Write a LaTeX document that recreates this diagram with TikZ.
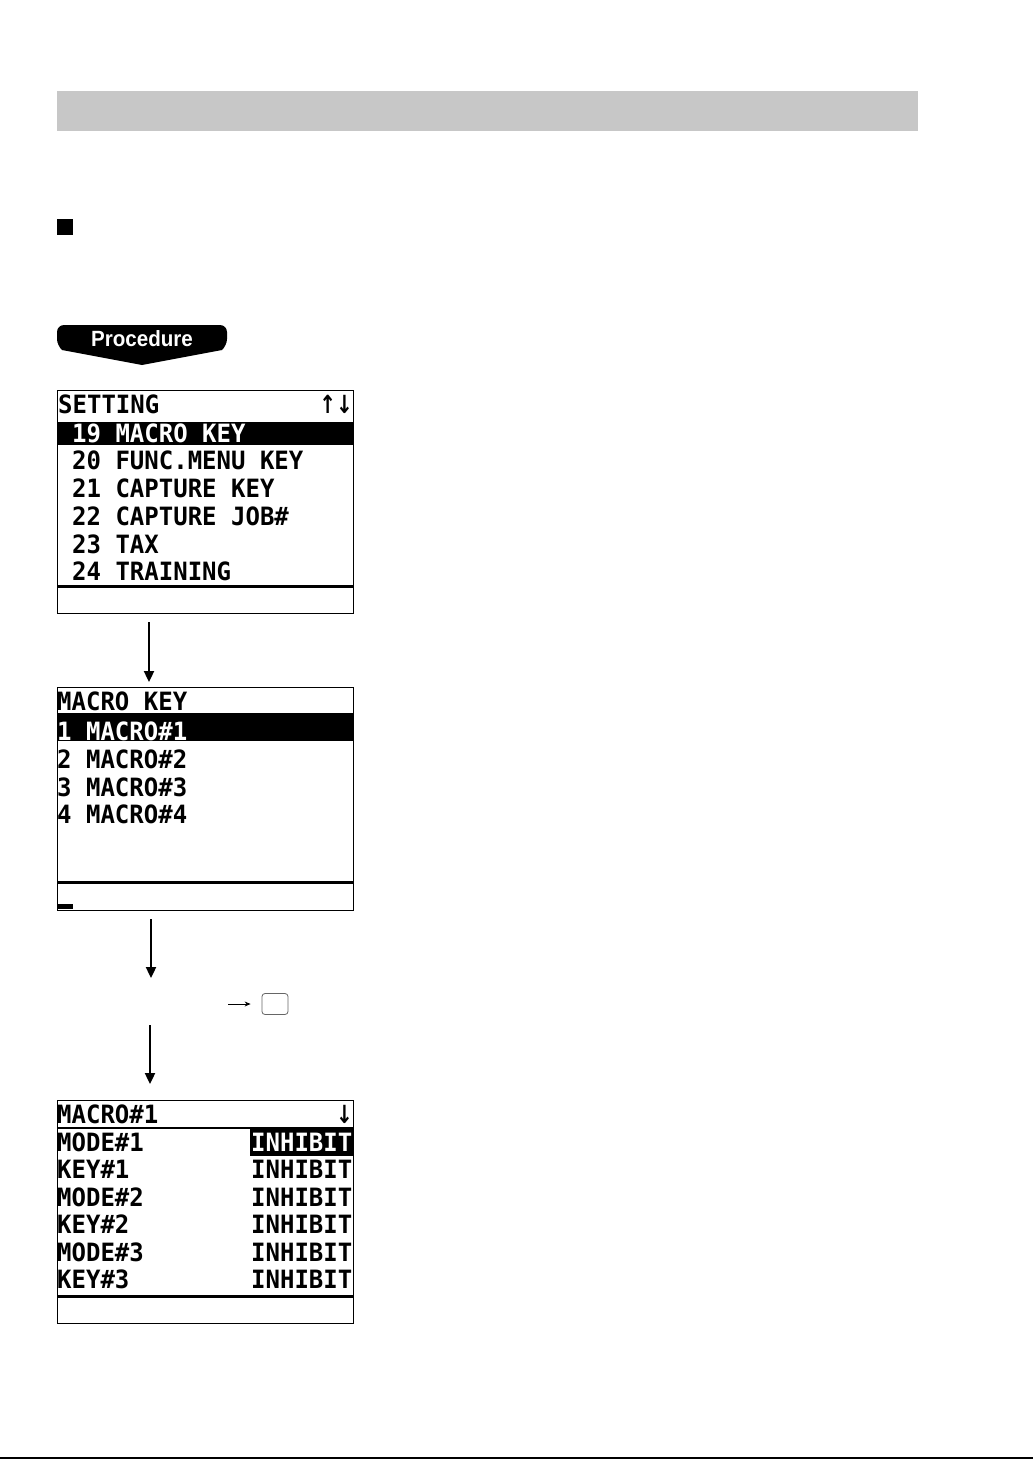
\documentclass[tikz,border=0pt]{standalone}
\usepackage{fontspec}
\usetikzlibrary{arrows.meta}
\newfontfamily\lcdfont{DejaVu Sans Mono}[BoldFont={* Bold}]
\newfontfamily\arrowfont{DejaVu Sans}[BoldFont={* Bold}]
\newfontfamily\badgefont{Liberation Sans}
\begin{document}
\begin{tikzpicture}[x=1pt,y=-1pt,
  lcd/.style={font=\lcdfont\bfseries\fontsize{24}{24}\selectfont, inner sep=0pt, anchor=base west, yscale=1.05},
  lcdw/.style={lcd, text=white},
  arr/.style={font=\arrowfont\bfseries\fontsize{25}{25}\selectfont, inner sep=0pt, anchor=base east, xscale=0.8},
  scr/.style={draw=black, line width=0.9pt, fill=white},
  flowarrow/.style={line width=2.3pt, -{Triangle[width=10pt,length=11pt]}},
  smallarrow/.style={line width=0.8pt, -{Stealth[width=5pt,length=6pt]}},
  keybox/.style={draw=black!60, line width=0.8pt, rounded corners=3pt, minimum width=26pt, minimum height=21pt, inner sep=0pt}
]
\useasboundingbox (0,0) rectangle (1033,1459);

% header band
\fill[black!22] (57,91) rectangle (918,131);
% bullet square
\fill (57,219) rectangle (73,235);

% Procedure badge
\fill (142,365) -- (62,350) [rounded corners=7pt] -- (57,346) -- (57,325) -- (227,325) -- (227,346) [sharp corners] -- (222,350) -- cycle;
\node[font=\badgefont\bfseries\fontsize{21}{21}\selectfont, text=white, xscale=0.98, yscale=1.05, inner sep=0pt] (proc) at (142,339) {Procedure};

% ---------- Screen 1 ----------
\node[scr, minimum width=296pt, minimum height=223pt, inner sep=0pt, anchor=north west] (s1) at (57,390) {};
\fill (57,422) rectangle (353,445);
\draw[line width=3pt] (57,586) -- (353,586);
\node[lcd] (s1h) at (58,413) {SETTING};
\node[arr] (s1a) at (353,413) {↑↓};
\node[lcdw] (s1r1) at (72,442) {19 MACRO KEY};
\node[lcd] (s1r2) at (72,469) {20 FUNC.MENU KEY};
\node[lcd] (s1r3) at (72,497) {21 CAPTURE KEY};
\node[lcd] (s1r4) at (72,525) {22 CAPTURE JOB\#};
\node[lcd] (s1r5) at (72,553) {23 TAX};
\node[lcd] (s1r6) at (72,580) {24 TRAINING};

% ---------- Screen 2 ----------
\node[scr, minimum width=296pt, minimum height=223pt, inner sep=0pt, anchor=north west] (s2) at (57,687) {};
\fill (57,713) rectangle (353,741);
\draw[line width=3pt] (57,882) -- (353,882);
\fill (57,904) rectangle (73,909);
\node[lcd] (s2h) at (57,710) {MACRO KEY};
\node[lcdw] (s2r1) at (57,740) {1 MACRO\#1};
\node[lcd] (s2r2) at (57,768) {2 MACRO\#2};
\node[lcd] (s2r3) at (57,796) {3 MACRO\#3};
\node[lcd] (s2r4) at (57,823) {4 MACRO\#4};

% ---------- Screen 3 ----------
\node[scr, minimum width=296pt, minimum height=223pt, inner sep=0pt, anchor=north west] (s3) at (57,1100) {};
\draw[line width=2pt] (57,1128) -- (353,1128);
\fill (250,1127) rectangle (353,1156);
\draw[line width=3pt] (57,1296) -- (353,1296);
\node[lcd] (s3h) at (57,1123) {MACRO\#1};
\node[arr] (s3a) at (353,1123) {↓};
\node[lcd] (s3l1) at (57,1151) {MODE\#1};
\node[lcd] (s3l2) at (57,1178) {KEY\#1};
\node[lcd] (s3l3) at (57,1206) {MODE\#2};
\node[lcd] (s3l4) at (57,1233) {KEY\#2};
\node[lcd] (s3l5) at (57,1261) {MODE\#3};
\node[lcd] (s3l6) at (57,1288) {KEY\#3};
\node[lcdw] (s3v1) at (251,1151) {INHIBIT};
\node[lcd] (s3v2) at (251,1178) {INHIBIT};
\node[lcd] (s3v3) at (251,1206) {INHIBIT};
\node[lcd] (s3v4) at (251,1233) {INHIBIT};
\node[lcd] (s3v5) at (251,1261) {INHIBIT};
\node[lcd] (s3v6) at (251,1288) {INHIBIT};

% ---------- connectors ----------
\coordinate (a1s) at (149,622);
\coordinate (a1e) at (149,682);
\coordinate (a2s) at (151,919);
\coordinate (a2e) at (151,978);
\coordinate (a3s) at (150,1025);
\coordinate (a3e) at (150,1084);
\draw[flowarrow] (a1s) -- (a1e);
\draw[flowarrow] (a2s) -- (a2e);
\draw[flowarrow] (a3s) -- (a3e);

\node[keybox] (k1) at (275,1004) {};
\coordinate (ks) at (228,1004);
\draw[smallarrow] (ks) -- ([xshift=-11pt]k1.west);

% bottom rule
\draw[line width=1.5pt] (0,1458) -- (1033,1458);
\end{tikzpicture}
\end{document}
